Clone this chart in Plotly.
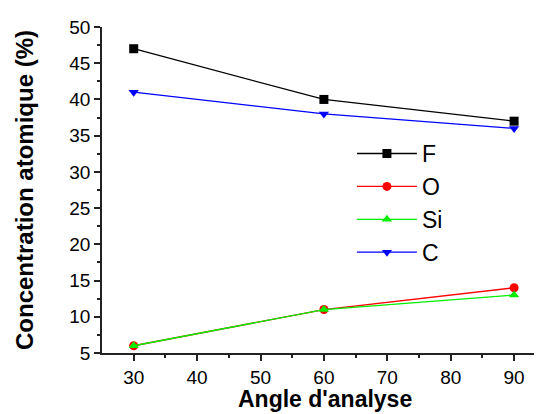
import plotly.graph_objects as go

angles = [30, 60, 90]
F = [47, 40, 37]
O = [6, 11, 14]
Si = [6, 11, 13]
C = [41, 38, 36]

series = [
    ("F", F, "black", "square"),
    ("O", O, "red", "circle"),
    ("Si", Si, "#00ee00", "triangle-up"),
    ("C", C, "blue", "triangle-down"),
]

fig = go.Figure()
for name, vals, color, sym in series:
    fig.add_trace(go.Scatter(
        x=angles, y=vals, name=name, mode="lines+markers",
        line=dict(color=color, width=1.3),
        marker=dict(color=color, symbol=sym, size=9, line=dict(width=0)),
    ))

# page body has an 8px margin, so the figure is drawn 8px smaller/offset
W, H = 534, 406
L, R, T, B = 94, 0, 19, 61
plot_w = W - L - R
plot_h = H - T - B

font = "Liberation Sans, Arial, sans-serif"
axis_common = dict(
    showgrid=False, zeroline=False, showline=True, linecolor="#222", linewidth=1.5,
    ticks="outside", ticklen=6, tickwidth=1.5, tickcolor="#222",
    tickfont=dict(size=19), automargin=False,
)
fig.update_layout(
    width=W, height=H,
    margin=dict(l=L, r=R, t=T, b=B, autoexpand=False),
    plot_bgcolor="white", paper_bgcolor="white",
    font=dict(family=font, size=19, color="black"),
    showlegend=True,
    legend=dict(x=0.568, y=0.46, xanchor="left", yanchor="middle",
                font=dict(size=23), itemwidth=60, tracegroupgap=0,
                bgcolor="rgba(0,0,0,0)"),
    xaxis=dict(
        range=[25, 94.4], tickvals=[30, 40, 50, 60, 70, 80, 90],
        minor=dict(tickvals=[35, 45, 55, 65, 75, 85], ticks="outside", ticklen=3, tickwidth=1.5, tickcolor="#222"),
        **axis_common,
    ),
    yaxis=dict(
        range=[5, 50], tickvals=[5, 10, 15, 20, 25, 30, 35, 40, 45, 50],
        minor=dict(tickvals=[7.5, 12.5, 17.5, 22.5, 27.5, 32.5, 37.5, 42.5, 47.5], ticks="outside", ticklen=3, tickwidth=1.5, tickcolor="#222"),
        **axis_common,
    ),
    annotations=[
        dict(text="<b>Angle d'analyse</b>", x=(317 - L) / plot_w, y=(H - B - 391) / plot_h,
             xref="paper", yref="paper", xanchor="center", yanchor="middle",
             showarrow=False, font=dict(size=23)),
        dict(text="<b>Concentration atomique (%)</b>", x=(16 - L) / plot_w, y=(H - B - 182) / plot_h,
             xref="paper", yref="paper", xanchor="center", yanchor="middle",
             showarrow=False, textangle=-90, font=dict(size=24)),
    ],
)
fig.write_html("out.html")
